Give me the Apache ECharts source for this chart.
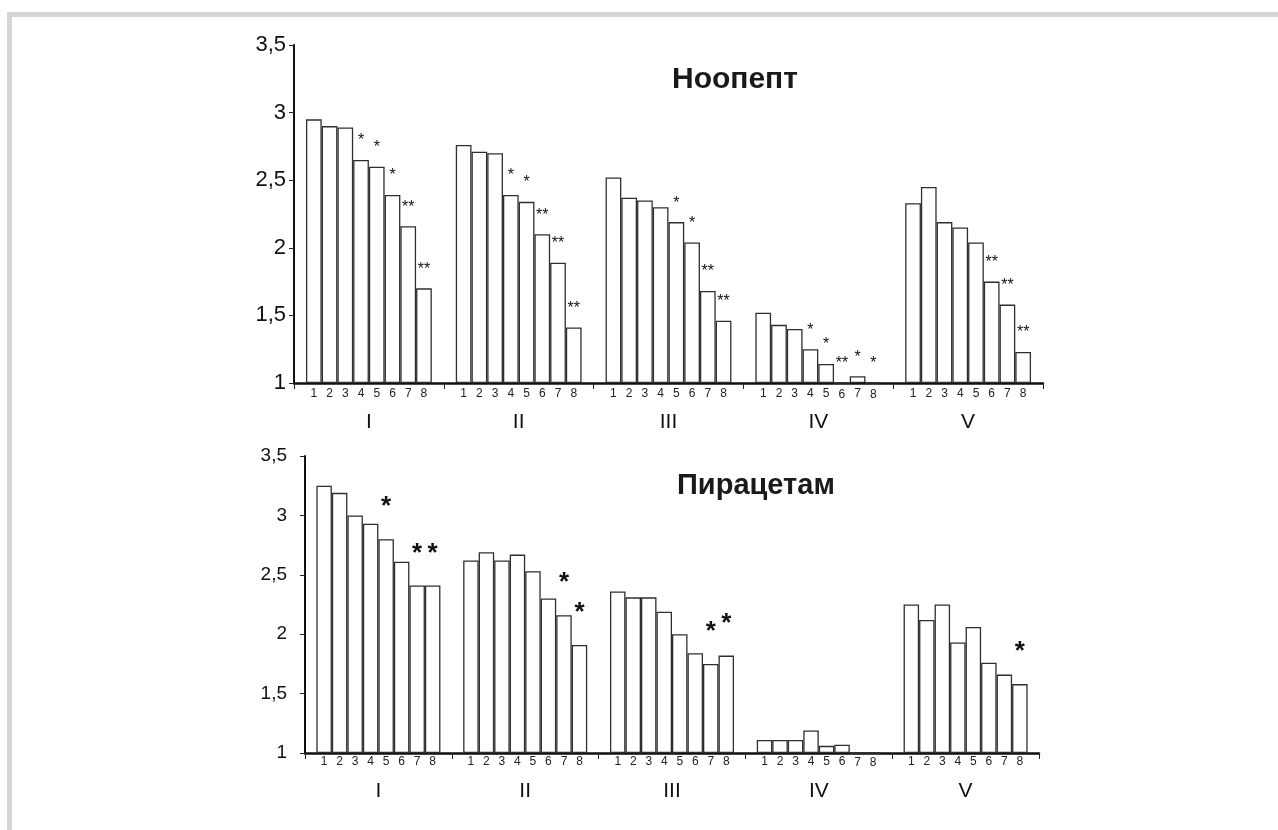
<!DOCTYPE html>
<html><head><meta charset="utf-8">
<script src="https://cdn.jsdelivr.net/npm/echarts@6/dist/echarts.min.js"></script>
<style>
html,body{margin:0;padding:0;background:#fff;}
#frame{position:absolute;left:7px;top:12px;right:0;bottom:0;border-top:5px solid #d5d5d5;border-left:5px solid #d5d5d5;}
#chart{position:absolute;left:0;top:0;width:1278px;height:830px;}
</style></head><body>
<div id="frame"></div><div id="chart"></div>
<script>
// Categories (groups) and bar numbers
const groups = ['I', 'II', 'III', 'IV', 'V'];
const barNumbers = ['1', '2', '3', '4', '5', '6', '7', '8'];
const titles = ['Ноопепт', 'Пирацетам'];
const yMin = 1, yMax = 3.5, yStep = 0.5;

// Ноопепт: per group, 8 bars
const noopeptI   = [2.95, 2.90, 2.89, 2.65, 2.60, 2.39, 2.16, 1.70];
const noopeptII  = [2.76, 2.71, 2.70, 2.39, 2.34, 2.10, 1.89, 1.41];
const noopeptIII = [2.52, 2.37, 2.35, 2.30, 2.19, 2.04, 1.68, 1.46];
const noopeptIV  = [1.52, 1.43, 1.40, 1.25, 1.14, 1.00, 1.05, 1.00];
const noopeptV   = [2.33, 2.45, 2.19, 2.15, 2.04, 1.75, 1.58, 1.23];
const noopeptStars = [
  ['', '', '', '*', '*', '*', '**', '**'],
  ['', '', '', '*', '*', '**', '**', '**'],
  ['', '', '', '', '*', '*', '**', '**'],
  ['', '', '', '*', '*', '**', '*', '*'],
  ['', '', '', '', '', '**', '**', '**']
];

// Пирацетам
const piracetamI   = [3.25, 3.19, 3.00, 2.93, 2.80, 2.61, 2.41, 2.41];
const piracetamII  = [2.62, 2.69, 2.62, 2.67, 2.53, 2.30, 2.16, 1.91];
const piracetamIII = [2.36, 2.31, 2.31, 2.19, 2.00, 1.84, 1.75, 1.82];
const piracetamIV  = [1.11, 1.11, 1.11, 1.19, 1.06, 1.07, 1.00, 1.00];
const piracetamV   = [2.25, 2.12, 2.25, 1.93, 2.06, 1.76, 1.66, 1.58];
const piracetamStars = [
  ['', '', '', '', '*', '', '*', '*'],
  ['', '', '', '', '', '', '*', '*'],
  ['', '', '', '', '', '', '*', '*'],
  ['', '', '', '', '', '', '', ''],
  ['', '', '', '', '', '', '', '*']
];

const FONT = '"Liberation Sans", Arial, sans-serif';
const noopept = [noopeptI, noopeptII, noopeptIII, noopeptIV, noopeptV];
const piracetam = [piracetamI, piracetamII, piracetamIII, piracetamIV, piracetamV];

function buildSeries(idx, values, stars, cfg) {
  const out = [];
  for (let b = 0; b < barNumbers.length; b++) {
    out.push({
      type: 'bar', xAxisIndex: idx, yAxisIndex: idx,
      stack: 's' + idx + '_' + b, stackStrategy: 'all',
      barGap: '0%', barCategoryGap: cfg.catGap, clip: false,
      data: values.map(g => g[b]),
      itemStyle: { color: '#fff', borderColor: '#2f2f2f', borderWidth: 1.3 },
      label: { show: true, position: 'bottom', distance: cfg.numDist, formatter: barNumbers[b],
               fontSize: 12, color: '#222', fontFamily: FONT },
      silent: true, animation: false
    });
  }
  for (let b = 0; b < barNumbers.length; b++) {
    out.push({
      type: 'bar', xAxisIndex: idx, yAxisIndex: idx,
      stack: 's' + idx + '_' + b, stackStrategy: 'all',
      barGap: '0%', barCategoryGap: cfg.catGap, clip: false,
      data: values.map(() => 0),
      itemStyle: { color: 'rgba(0,0,0,0)', borderWidth: 0 },
      label: { show: true, position: 'top', distance: cfg.starDist,
               formatter: p => stars[p.dataIndex][b],
               fontSize: cfg.starSize, fontWeight: cfg.starWeight, color: '#111', fontFamily: FONT },
      silent: true, animation: false
    });
  }
  return out;
}

function xAxis(idx, margin) {
  return {
    type: 'category', gridIndex: idx, data: groups,
    axisLine: { lineStyle: { color: '#111', width: 2.5 } },
    axisTick: { show: true, length: 6, lineStyle: { color: '#222', width: 1 } },
    axisLabel: { fontSize: 21, color: '#111', margin: margin, fontFamily: FONT }
  };
}
function yAxis(idx, fs, margin) {
  return {
    type: 'value', gridIndex: idx, min: yMin, max: yMax, interval: yStep, startValue: yMin,
    axisLine: { show: true, lineStyle: { color: '#111', width: 2 } },
    axisTick: { show: true, length: 5, lineStyle: { color: '#222', width: 1 } },
    splitLine: { show: false },
    axisLabel: { fontSize: fs, color: '#111', margin: margin, fontFamily: FONT,
                 formatter: v => String(v).replace('.', ',') }
  };
}

const chart = echarts.init(document.getElementById('chart'));
chart.setOption({
  animation: false,
  title: [
    { text: titles[0], left: 667, top: 60,
      textStyle: { fontSize: 30, fontWeight: 'bold', color: '#1a1a1a', fontFamily: FONT } },
    { text: titles[1], left: 672, top: 466,
      textStyle: { fontSize: 29, fontWeight: 'bold', color: '#1a1a1a', fontFamily: FONT } }
  ],
  grid: [
    { left: 294, right: 235, top: 45, bottom: 447 },
    { left: 305, right: 239, top: 456, bottom: 77 }
  ],
  xAxis: [xAxis(0, 29), xAxis(1, 28)],
  yAxis: [yAxis(0, 22, 8), yAxis(1, 19, 18)],
  series: [].concat(
    buildSeries(0, noopept, noopeptStars, { catGap: '16%', numDist: 5, starDist: 11, starSize: 16, starWeight: 'normal' }),
    buildSeries(1, piracetam, piracetamStars, { catGap: '15.5%', numDist: 3, starDist: 19, starSize: 26, starWeight: 'bold' })
  )
});
</script>
</body></html>
